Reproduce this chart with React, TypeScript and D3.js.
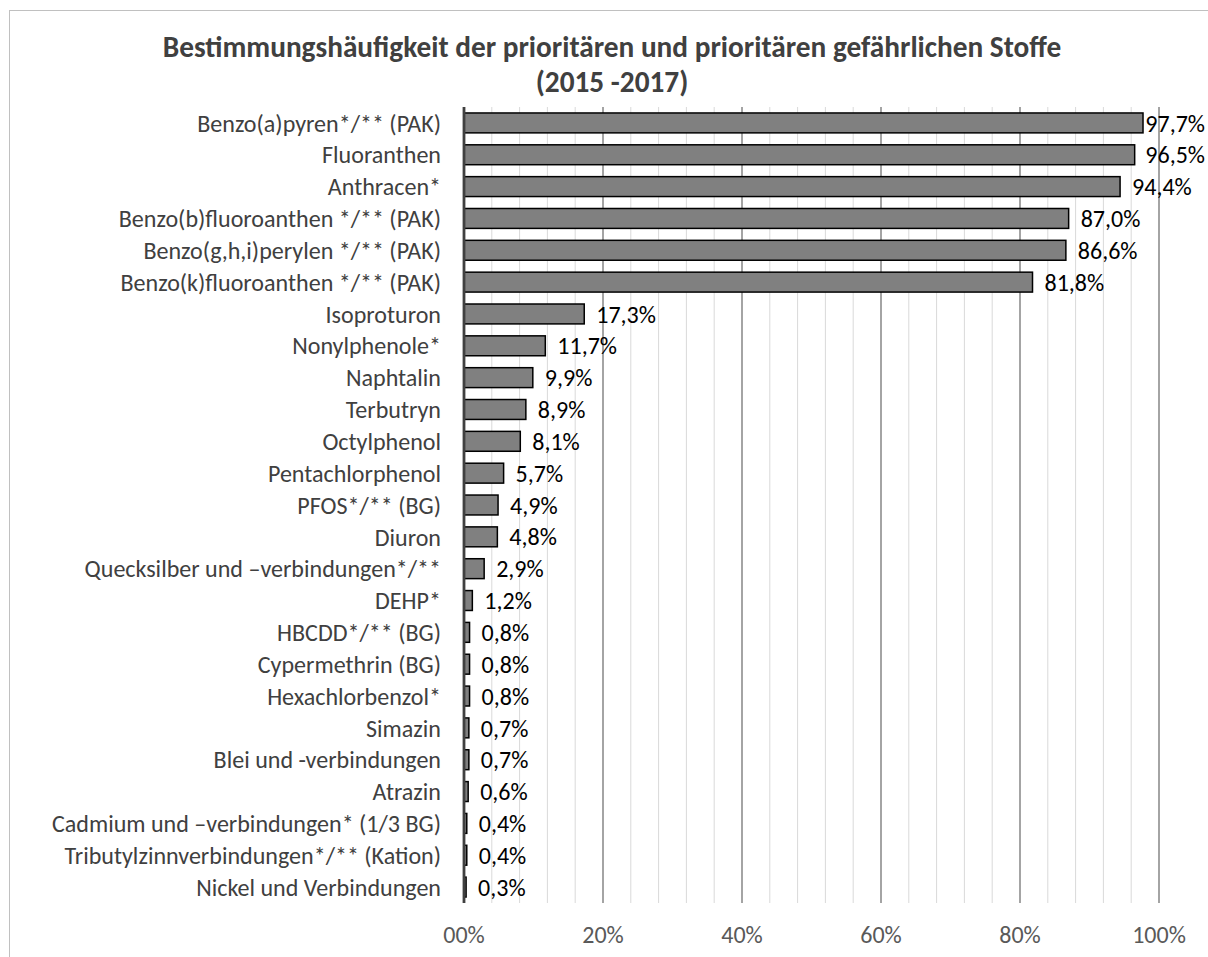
import React, { useLayoutEffect, useState } from "react";
import * as d3 from "d3";

const categories = [
  "Benzo(a)pyren*/** (PAK)",
  "Fluoranthen",
  "Anthracen*",
  "Benzo(b)fluoroanthen */** (PAK)",
  "Benzo(g,h,i)perylen */** (PAK)",
  "Benzo(k)fluoroanthen */** (PAK)",
  "Isoproturon",
  "Nonylphenole*",
  "Naphtalin",
  "Terbutryn",
  "Octylphenol",
  "Pentachlorphenol",
  "PFOS*/** (BG)",
  "Diuron",
  "Quecksilber und –verbindungen*/**",
  "DEHP*",
  "HBCDD*/** (BG)",
  "Cypermethrin (BG)",
  "Hexachlorbenzol*",
  "Simazin",
  "Blei und -verbindungen",
  "Atrazin",
  "Cadmium und –verbindungen* (1/3 BG)",
  "Tributylzinnverbindungen*/** (Kation)",
  "Nickel und Verbindungen",
];

const values = [
  97.7, 96.5, 94.4, 87.0, 86.6, 81.8, 17.3, 11.7, 9.9, 8.9, 8.1, 5.7, 4.9, 4.8,
  2.9, 1.2, 0.8, 0.8, 0.8, 0.7, 0.7, 0.6, 0.4, 0.4, 0.3,
];

const tickValues = [0, 20, 40, 60, 80, 100];
const tickLabels = ["00%", "20%", "40%", "60%", "80%", "100%"];

const titleLines = [
  "Bestimmungshäufigkeit der prioritären und prioritären gefährlichen Stoffe",
  "(2015 -2017)",
];

const FONT = "Carlito, Calibri, Lato, 'Open Sans', sans-serif";

const W = 1208;
const H = 957;
const M = { left: 464, right: 1159, top: 107, bottom: 903 };

function fmt(v: number) {
  return v.toFixed(1).replace(".", ",") + "%";
}

export default function App() {
  const [sizes, setSizes] = useState({ label: 22, value: 21, title: 27 });
  const [ctxW, setCtxW] = useState<((s: string, size: number, bold?: boolean) => number) | null>(null);

  useLayoutEffect(() => {
    const run = () => {
      const canvas = document.createElement("canvas");
      const ctx = canvas.getContext("2d")!;
      const measure = (s: string, size: number, bold = false) => {
        ctx.font = `${bold ? "bold " : ""}${size}px ${FONT}`;
        return ctx.measureText(s).width;
      };
      const lw = measure("Benzo(a)pyren*/** (PAK)", 100);
      const vw = measure("97,7%", 100);
      const tw = measure(titleLines[0], 100, true);
      setSizes({
        label: (244 * 100) / lw,
        value: (59.7 * 100) / vw,
        title: (899 * 100) / tw,
      });
      setCtxW(() => measure);
    };
    if ((document as any).fonts && (document as any).fonts.ready) {
      (document as any).fonts.ready.then(run);
    } else run();
  }, []);

  const x = d3.scaleLinear().domain([0, 100]).range([M.left, M.right]);
  const y = d3
    .scaleBand<string>()
    .domain(categories)
    .range([M.top, M.bottom])
    .paddingInner(0.375)
    .paddingOuter(0.1875);

  const minorTicks = d3.range(0, 101, 4).filter((t) => t % 20 !== 0);
  const labelColor = "#404040";

  return (
    <div style={{ position: "fixed", left: 0, top: 0, width: W, height: H, background: "#fff" }}>
      <svg width={W} height={H} style={{ display: "block", fontFamily: FONT }}>
        <rect x={9.5} y={10.5} width={W + 20} height={H + 20} fill="#fff" stroke="#c0c0c0" strokeWidth={1} />
        {titleLines.map((t, i) => (
          <text
            key={i}
            x={612}
            y={57 + i * 35}
            textAnchor="middle"
            fontWeight="bold"
            fontSize={sizes.title}
            fill="#404040"
          >
            {t}
          </text>
        ))}
        {minorTicks.map((t) => (
          <line key={"m" + t} x1={x(t)} x2={x(t)} y1={M.top} y2={M.bottom} stroke="#d9d9d9" strokeWidth={1} />
        ))}
        {tickValues.slice(1).map((t) => (
          <line key={"M" + t} x1={x(t)} x2={x(t)} y1={M.top} y2={M.bottom} stroke="#868686" strokeWidth={1.5} />
        ))}
        {categories.map((c, i) => (
          <rect
            key={c}
            x={x(0)}
            y={y(c)!}
            width={x(values[i]) - x(0)}
            height={y.bandwidth()}
            fill="#808080"
            stroke="#000"
            strokeWidth={1.5}
          />
        ))}
        <line x1={x(0)} x2={x(0)} y1={M.top} y2={M.bottom} stroke="#404040" strokeWidth={2.8} />
        {categories.map((c) => (
          <text
            key={"l" + c}
            x={441}
            y={y(c)! + y.bandwidth() / 2}
            dy="0.36em"
            textAnchor="end"
            fontSize={sizes.label}
            fill={labelColor}
          >
            {c}
          </text>
        ))}
        {categories.map((c, i) => {
          const s = fmt(values[i]);
          let lx = x(values[i]) + 12;
          const w = ctxW ? ctxW(s, sizes.value) : 60;
          if (lx + w > 1205) lx = 1205 - w;
          return (
            <text
              key={"v" + c}
              x={lx}
              y={y(c)! + y.bandwidth() / 2}
              dy="0.36em"
              fontSize={sizes.value}
              fill="#000"
            >
              {s}
            </text>
          );
        })}
        {tickValues.map((t, i) => (
          <text key={"t" + t} x={x(t)} y={943} textAnchor="middle" fontSize={sizes.value} fill="#595959">
            {tickLabels[i]}
          </text>
        ))}
      </svg>
    </div>
  );
}
